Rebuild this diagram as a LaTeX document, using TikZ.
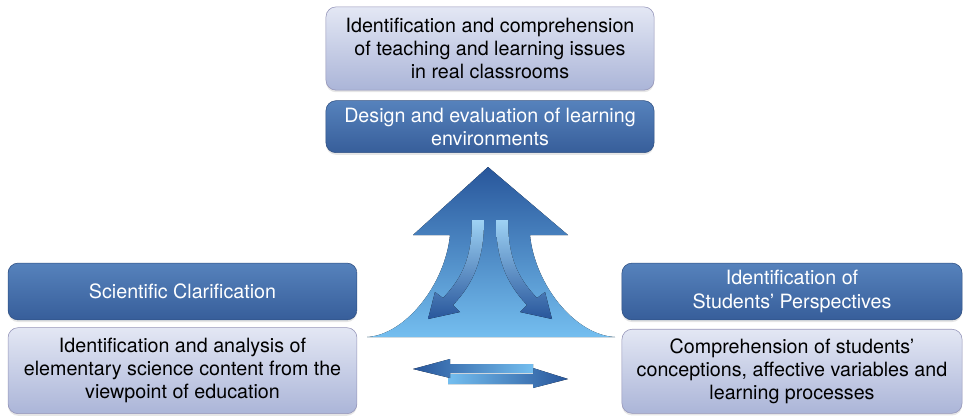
\documentclass[tikz,border=0pt]{standalone}
\usepackage{fontspec}
\setmainfont{TeX Gyre Heros}
\usepackage{xcolor}
\usepackage{tikz}
\usetikzlibrary{positioning}
\usetikzlibrary{shadows}

\definecolor{darktop}{HTML}{5682BC}
\definecolor{darkbot}{HTML}{375E9A}
\definecolor{lighttop}{HTML}{E3E7F4}
\definecolor{lightbot}{HTML}{ABB5D8}
\definecolor{arrowdark}{HTML}{28569B}
\definecolor{arrowlight}{HTML}{74BEEF}

\begin{document}
\begin{tikzpicture}[
      x=0.025cm, y=-0.025cm,
      node distance=0.2cm,
      mybox/.style={rounded corners=0.25cm, align=center, inner sep=2pt,
        font=\fontsize{14}{16.5}\selectfont,
        drop shadow={shadow xshift=0pt, shadow yshift=-1.5pt, opacity=0.2}},
      mydark/.style={mybox, draw=darkbot!85!black, top color=darktop,
        bottom color=darkbot, text=white},
      mylight/.style={mybox, draw=gray!80!blue!70, top color=lighttop,
        bottom color=lightbot, text=black}
      ]
      \useasboundingbox (0,0) rectangle (969,417);

      \node[mylight, minimum width=8.2cm, minimum height=2.08cm] (t1) at (490,48.5)
        {Identification and comprehension\\ of teaching and learning issues\\ in real classrooms};
      \node[mydark, minimum width=8.2cm, minimum height=1.3cm, below=0.25cm of t1] (t2)
        {Design and evaluation of learning\\ environments};

      \node[mydark, minimum width=8.72cm, minimum height=1.42cm] (l1) at (182.5,291.5)
        {Scientific Clarification};
      \node[mylight, minimum width=8.72cm, minimum height=2.15cm, below=0.18cm of l1] (l2)
        {Identification and analysis of\\ elementary science content from the\\ viewpoint of education};

      \node[mydark, minimum width=8.5cm, minimum height=1.42cm] (r1) at (792,291.5)
        {Identification of\\ Students' Perspectives};
      \node[mylight, minimum width=8.5cm, minimum height=2.1cm, below=0.22cm of r1] (r2)
        {Comprehension of students'\\ conceptions, affective variables and\\ learning processes};

      % big arrow pointing up
      \fill[top color=arrowdark, bottom color=arrowlight]
        (488,167) -- (568,235) -- (530,235)
        .. controls (535,285) and (575,335) .. (615,337)
        -- (367,337)
        .. controls (405,335) and (445,285) .. (450,235)
        -- (413,235) -- cycle;

      % the two bent arrows inside it
      \fill[top color=arrowlight!70!white, bottom color=arrowdark]
        (472,220) .. controls (472,255) and (464,276) .. (443,298)
        -- (435,292) -- (428,319) -- (460,312) -- (453,305)
        .. controls (474,283) and (484,258) .. (484,220) -- cycle;
      \fill[top color=arrowlight!70!white, bottom color=arrowdark]
        (508,220) .. controls (508,255) and (516,276) .. (537,298)
        -- (545,292) -- (552,319) -- (520,312) -- (527,305)
        .. controls (506,283) and (496,258) .. (496,220) -- cycle;

      % two-way arrow below
      \fill[left color=arrowlight, right color=arrowdark]
        (448,374) -- (533,374) -- (533,368) -- (568,379)
        -- (533,388) -- (533,384) -- (448,384) -- cycle;
      \fill[left color=arrowdark, right color=arrowlight]
        (533,364) -- (450,364) -- (450,359) -- (413,369)
        -- (450,378) -- (450,373) -- (533,373) -- cycle;

    \end{tikzpicture}
\end{document}
